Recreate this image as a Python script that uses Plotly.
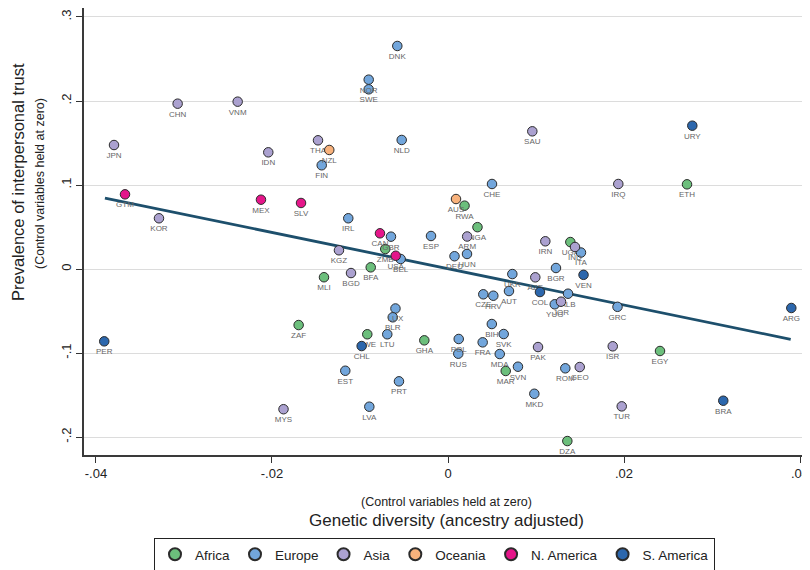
import plotly.graph_objects as go

# ---- data ----
africa_codes = ["ETH", "UGA", "NGA", "RWA", "ZMB", "BFA", "MLI", "ZAF", "ZWE", "GHA", "MAR", "EGY", "DZA"]
africa_x = [0.02716, 0.0139, 0.00335, 0.00188, -0.00713, -0.00878, -0.01409, -0.01697, -0.00917, -0.00269, 0.00656, 0.02409, 0.01356]
africa_y = [0.1008, 0.0321, 0.0498, 0.0754, 0.0238, 0.0020, -0.0098, -0.0667, -0.0777, -0.0849, -0.1214, -0.0976, -0.2048]

europe_codes = ["DNK", "NOR", "SWE", "NLD", "FIN", "CHE", "IRL", "GBR", "ESP", "BEL", "DEU", "HUN",
                "ITA", "BGR", "UKR", "AUT", "CZE", "HRV", "ALB", "YUG", "GRC", "BIH", "SVK", "FRA",
                "MDA", "SVN", "ROM", "MKD", "LUX", "BLR", "LTU", "POL", "RUS", "EST", "PRT", "LVA"]
europe_x = [-0.00576, -0.00901, -0.00901, -0.00526, -0.01435, 0.00500, -0.01133, -0.00648, -0.00193, -0.00538, 0.00074, 0.00216,
            0.01511, 0.01227, 0.00731, 0.00693, 0.00401, 0.00515, 0.01364, 0.01213, 0.01926, 0.00498, 0.00633, 0.00394,
            0.00588, 0.00795, 0.01333, 0.00981, -0.00597, -0.00628, -0.00690, 0.00122, 0.00117, -0.01167, -0.00557, -0.00894]
europe_y = [0.2655, 0.2254, 0.2139, 0.1536, 0.1235, 0.1012, 0.0604, 0.0385, 0.0393, 0.0119, 0.0152, 0.0179,
            0.0196, 0.0012, -0.0060, -0.0262, -0.0301, -0.0318, -0.0294, -0.0420, -0.0450, -0.0655, -0.0774, -0.0873,
            -0.1012, -0.1163, -0.1182, -0.1485, -0.0470, -0.0575, -0.0777, -0.0833, -0.1008, -0.1211, -0.1337, -0.1639]

asia_codes = ["CHN", "VNM", "JPN", "IDN", "THA", "SAU", "IRQ", "IND", "IRN", "KOR", "KGZ", "BGD",
              "ARM", "AZE", "JOR", "PAK", "ISR", "GEO", "TUR", "MYS"]
asia_x = [-0.03072, -0.02390, -0.03795, -0.02042, -0.01477, 0.00958, 0.01935, 0.01443, 0.01106, -0.03284, -0.01239, -0.01102,
          0.00218, 0.00992, 0.01284, 0.01023, 0.01872, 0.01497, 0.01974, -0.01869]
asia_y = [0.1968, 0.1992, 0.1476, 0.1389, 0.1532, 0.1639, 0.1012, 0.0262, 0.0330, 0.0604, 0.0223, -0.0048,
          0.0387, -0.0099, -0.0389, -0.0929, -0.0920, -0.1167, -0.1635, -0.1669]

oceania_codes = ["NZL", "AUS"]
oceania_x = [-0.01349, 0.00091]
oceania_y = [0.1417, 0.0833]

namerica_codes = ["GTM", "MEX", "SLV", "CAN", "USA"]
namerica_x = [-0.03670, -0.02125, -0.01670, -0.00773, -0.00594]
namerica_y = [0.0889, 0.0825, 0.0786, 0.0425, 0.0158]

samerica_codes = ["URY", "VEN", "COL", "PER", "CHL", "BRA", "ARG"]
samerica_x = [0.02776, 0.01540, 0.01045, -0.03906, -0.00981, 0.03128, 0.03901]
samerica_y = [0.1706, -0.0069, -0.0274, -0.0861, -0.0917, -0.1568, -0.0464]

fit_x = [-0.03898, 0.03894]
fit_y = [0.0845, -0.0837]

x_ticks = [-0.04, -0.02, 0, 0.02, 0.04]
x_ticklabels = ["-.04", "-.02", "0", ".02", ".04"]
y_ticks = [-0.2, -0.1, 0, 0.1, 0.2, 0.3]
y_ticklabels = ["-.2", "-.1", "0", ".1", ".2", ".3"]

groups = [
    ("Africa", africa_codes, africa_x, africa_y, "#6cbf7c"),
    ("Europe", europe_codes, europe_x, europe_y, "#72a6dc"),
    ("Asia", asia_codes, asia_x, asia_y, "#aba1d0"),
    ("Oceania", oceania_codes, oceania_x, oceania_y, "#f8b27c"),
    ("N. America", namerica_codes, namerica_x, namerica_y, "#e5168a"),
    ("S. America", samerica_codes, samerica_x, samerica_y, "#2c67ad"),
]

FONT = "Liberation Sans, Arial, Helvetica, sans-serif"

fig = go.Figure()

fig.add_trace(go.Scatter(
    x=fit_x, y=fit_y, mode="lines",
    line=dict(color="#1d4f6c", width=2.8),
    showlegend=False, hoverinfo="skip",
))

for name, codes, xs, ys, col in groups:
    fig.add_trace(go.Scatter(
        x=xs, y=ys, mode="markers+text", name=name,
        text=codes, textposition="bottom center",
        textfont=dict(family=FONT, size=8, color="#666666"),
        marker=dict(size=9.5, color=col, line=dict(color="#2b2b2b", width=1)),
        cliponaxis=False,
    ))

# The page body has an 8px default margin, so the figure is drawn 8px smaller
# and every reference pixel position is shifted by OFF.
OFF = 8
W, H = 810 - OFF, 570 - OFF
ML, MR, MT, MB = 84 - OFF, 1, 0, 570 - 455
pw = W - ML - MR
ph = H - MT - MB


def px_x(p):
    return (p - OFF - ML) / pw


def px_y(p):
    return (H - MB - (p - OFF)) / ph


fig.update_layout(
    width=W, height=H,
    margin=dict(l=ML, r=MR, t=MT, b=MB, autoexpand=False),
    paper_bgcolor="white", plot_bgcolor="white",
    font=dict(family=FONT, color="#222222"),
    xaxis=dict(
        range=[-0.04136, 0.04102],
        tickmode="array", tickvals=x_ticks, ticktext=x_ticklabels,
        ticks="outside", ticklen=6, tickwidth=1, tickcolor="#333333",
        tickfont=dict(size=13, color="#222222"),
        showline=True, linecolor="#3a3a3a", linewidth=1.5,
        showgrid=False, zeroline=False, automargin=False,
    ),
    yaxis=dict(
        range=[-0.2214, 0.3107],
        tickmode="array", tickvals=y_ticks, ticktext=y_ticklabels,
        tickangle=-90,
        ticks="outside", ticklen=6, tickwidth=1, tickcolor="#333333",
        tickfont=dict(size=13, color="#222222"),
        showline=True, linecolor="#3a3a3a", linewidth=1.5,
        showgrid=True, gridcolor="#dcdcdc", gridwidth=1.2,
        zeroline=False, automargin=False,
    ),
    legend=dict(
        orientation="h", xanchor="left", yanchor="top",
        xref="container", yref="container",
        x=(154 - OFF) / W, y=(H - (538 - OFF)) / H,
        bordercolor="#222222", borderwidth=1,
        font=dict(family=FONT, size=13.5, color="#222222"),
        itemsizing="constant",
    ),
    annotations=[
        dict(text="(Control variables held at zero)", xref="paper", yref="paper",
             x=px_x(446), y=px_y(502), showarrow=False, xanchor="center", yanchor="middle",
             font=dict(family=FONT, size=12.5, color="#222222")),
        dict(text="Genetic diversity (ancestry adjusted)", xref="paper", yref="paper",
             x=px_x(446), y=px_y(520), showarrow=False, xanchor="center", yanchor="middle",
             font=dict(family=FONT, size=17, color="#222222")),
        dict(text="Prevalence of interpersonal trust", xref="paper", yref="paper",
             x=px_x(18), y=px_y(182), showarrow=False, xanchor="center", yanchor="middle",
             textangle=-90, font=dict(family=FONT, size=16.5, color="#222222")),
        dict(text="(Control variables held at zero)", xref="paper", yref="paper",
             x=px_x(40), y=px_y(184), showarrow=False, xanchor="center", yanchor="middle",
             textangle=-90, font=dict(family=FONT, size=12.5, color="#222222")),
    ],
)

fig.write_html("out.html")
